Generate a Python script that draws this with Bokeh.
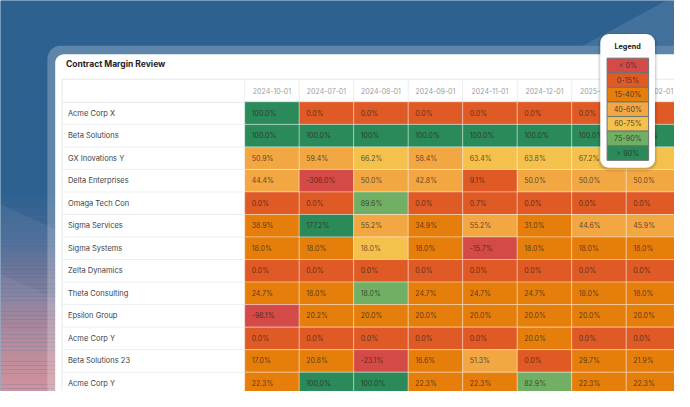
import math
from bokeh.plotting import figure
from bokeh.models import Range1d
from bokeh.embed import file_html
from bokeh.resources import INLINE
from bokeh.core.properties import value

# ---------------- data ----------------
title_text = "Contract Margin Review"
legend_title = "Legend"

columns = ["2024-10-01", "2024-07-01", "2024-08-01", "2024-09-01",
           "2024-11-01", "2024-12-01", "2025-01-01", "2025-02-01"]

rows = ["Acme Corp X", "Beta Solutions", "GX Inovations Y", "Delta Enterprises",
        "Omaga Tech Con", "Sigma Services", "Sigma Systems", "Zelta Dynamics",
        "Theta Consulting", "Epsilon Group", "Acme Corp Y", "Beta Solutions 23",
        "Acme Corp Y"]

cell_labels = [
    ["100.0%", "0.0%", "0.0%", "0.0%", "0.0%", "0.0%", "0.0%", "0.0%"],
    ["100.0%", "100.0%", "100%", "100.0%", "100.0%", "100.0%", "100.0%", "100.0%"],
    ["50.9%", "59.4%", "66.2%", "58.4%", "63.4%", "63.8%", "67.2%", "65.0%"],
    ["44.4%", "-306.0%", "50.0%", "42.8%", "9.1%", "50.0%", "50.0%", "50.0%"],
    ["0.0%", "0.0%", "89.6%", "0.0%", "0.7%", "0.0%", "0.0%", "0.0%"],
    ["38.9%", "177.2%", "55.2%", "34.9%", "55.2%", "31.0%", "44.6%", "45.9%"],
    ["18.0%", "18.0%", "18.0%", "18.0%", "-15.7%", "18.0%", "18.0%", "18.0%"],
    ["0.0%", "0.0%", "0.0%", "0.0%", "0.0%", "0.0%", "0.0%", "0.0%"],
    ["24.7%", "18.0%", "18.0%", "24.7%", "24.7%", "24.7%", "18.0%", "18.0%"],
    ["-98.1%", "20.2%", "20.0%", "20.0%", "20.0%", "20.0%", "20.0%", "20.0%"],
    ["0.0%", "0.0%", "0.0%", "0.0%", "0.0%", "20.0%", "0.0%", "0.0%"],
    ["17.0%", "20.8%", "-23.1%", "16.6%", "51.3%", "0.0%", "29.7%", "21.9%"],
    ["22.3%", "100,0%", "100.0%", "22.3%", "22.3%", "82.9%", "22.3%", "22.3%"],
]

# colour band index of each cell as shown (0:<0%, 1:0-15, 2:15-40, 3:40-60, 4:60-75, 5:75-90, 6:>90)
cell_bands = [
    [6, 1, 1, 1, 1, 1, 1, 1],
    [6, 6, 6, 6, 6, 6, 6, 6],
    [3, 3, 4, 3, 4, 4, 4, 4],
    [3, 0, 3, 3, 1, 3, 3, 3],
    [1, 1, 5, 1, 1, 1, 1, 1],
    [2, 6, 3, 2, 3, 2, 3, 3],
    [2, 2, 4, 2, 0, 2, 2, 2],
    [1, 1, 1, 1, 1, 1, 1, 1],
    [2, 2, 5, 2, 2, 2, 2, 2],
    [0, 2, 2, 2, 2, 2, 2, 2],
    [1, 1, 1, 1, 1, 2, 1, 1],
    [2, 2, 0, 2, 3, 1, 2, 2],
    [2, 6, 6, 2, 2, 5, 2, 2],
]

band_labels = ["< 0%", "0-15%", "15-40%", "40-60%", "60-75%", "75-90%", "> 90%"]
band_colors = ["#d44a47", "#e05a25", "#e67e0b", "#f2a743", "#f5c14d", "#71b064", "#2b8a5a"]

# ---------------- layout constants (reference pixel space 690 x 407) ----------------
W, H = 674, 391
RW, RHT = 690.0, 407.0
CX0, CW = 250.0, 55.8      # first cell column left edge, column width
RY0, RH = 105.5, 23.45     # first row top edge, row height
LY0, LH = 60.0, 15.2       # legend swatch top, swatch height
FONT = value("Inter")


def rr(x0, y0, x1, y1, r, n=10):
    xs, ys = [], []
    corners = [(x1 - r, y0 + r, -90, 0), (x1 - r, y1 - r, 0, 90),
               (x0 + r, y1 - r, 90, 180), (x0 + r, y0 + r, 180, 270)]
    for cx, cy, a0, a1 in corners:
        for k in range(n + 1):
            a = math.radians(a0 + (a1 - a0) * k / n)
            xs.append(cx + r * math.cos(a))
            ys.append(cy + r * math.sin(a))
    return xs, ys


p = figure(width=W, height=H, x_range=Range1d(0, RW), y_range=Range1d(RHT, 0),
           output_backend="svg", toolbar_location=None, min_border=0,
           x_axis_location=None, y_axis_location=None)
p.grid.visible = False
p.outline_line_color = None
p.background_fill_color = "#2d6190"
p.border_fill_color = "#2d6190"

p.extra_x_ranges = {"col": Range1d((0 - CX0) / CW, (RW - CX0) / CW)}
p.extra_y_ranges = {"row": Range1d((RHT - RY0) / RH, (0 - RY0) / RH),
                    "leg": Range1d((RHT - LY0) / LH, (0 - LY0) / LH)}

# ---------------- background gradient ----------------
stops = [(0, (45, 97, 144)), (200, (46, 98, 145)), (250, (72, 104, 148)),
         (310, (128, 118, 150)), (360, (178, 127, 145)), (410, (206, 135, 148))]


def grad(y):
    for (ya, ca), (yb, cb) in zip(stops[:-1], stops[1:]):
        if ya <= y <= yb:
            t = (y - ya) / (yb - ya)
            c = [int(ca[i] + (cb[i] - ca[i]) * t) for i in range(3)]
            return "#%02x%02x%02x" % tuple(c)
    return "#%02x%02x%02x" % stops[-1][1]


step = 4
ys0 = list(range(0, 412, step))
p.quad(left=0, right=700, top=ys0, bottom=[y + step for y in ys0],
       fill_color=[grad(y + step / 2) for y in ys0], line_color=None)

# diagonal light sheets
p.patch([0, 60, 60, 0], [212, 240, 420, 420], fill_color="white", fill_alpha=0.06, line_color=None)
p.patch([0, 60, 60, 0], [285, 312, 420, 420], fill_color="white", fill_alpha=0.05, line_color=None)
p.patch([596, 700, 700], [47, -10, 47], fill_color="white", fill_alpha=0.10, line_color=None)

# frame + card
fx, fy = rr(48, 47, 740, 470, 14)
p.patch(fx, fy, fill_color="white", fill_alpha=0.24, line_color=None)
cx, cy = rr(56, 56, 740, 470, 9)
p.patch(cx, cy, fill_color="white", line_color=None)

p.text(x=[67], y=[66.5], text=[title_text], text_font=FONT, text_font_size="8.5px",
       text_font_style="bold", text_color="#1f2328", text_baseline="middle", text_align="left")

# table frame lines
p.segment(x0=[63, 63, 63], y0=[82, 82, 106], x1=[700, 63, 250], y1=[82, 420, 106],
          line_color="#e6e8eb", line_width=1)
p.segment(x0=list(range(len(columns) + 1)), x1=list(range(len(columns) + 1)),
          y0=82, y1=106, x_range_name="col", line_color="#eceef1", line_width=1)
p.segment(x0=63, x1=250, y0=list(range(1, len(rows) + 1)), y1=list(range(1, len(rows) + 1)),
          y_range_name="row", line_color="#eceef1", line_width=1)

# header labels
p.text(x=[i + 0.5 for i in range(len(columns))], y=94.5, text=columns, x_range_name="col",
       text_font=FONT, text_font_size="7px", text_color="#9a9ea5",
       text_align="center", text_baseline="middle")

# row labels
p.text(x=69, y=[j + 0.5 for j in range(len(rows))], text=rows, y_range_name="row",
       text_font=FONT, text_font_size="7.5px", text_color="#3c4148",
       text_align="left", text_baseline="middle")

# cells
cxs, cys, ccol, ctxt = [], [], [], []
for j, r in enumerate(rows):
    for i, c in enumerate(columns):
        cxs.append(i)
        cys.append(j)
        ccol.append(band_colors[cell_bands[j][i]])
        ctxt.append(cell_labels[j][i])
p.rect(x=[v + 0.5 for v in cxs], y=[v + 0.5 for v in cys], width=1, height=1,
       x_range_name="col", y_range_name="row", fill_color=ccol,
       line_color="white", line_alpha=0.35, line_width=1)
p.text(x=cxs, y=[v + 0.5 for v in cys], text=ctxt, x_offset=7,
       x_range_name="col", y_range_name="row", text_font=FONT, text_font_size="7px",
       text_color="#2b2118", text_alpha=0.75, text_align="left", text_baseline="middle")

# legend box
for k, a in enumerate([0.04, 0.05, 0.07]):
    e = 3 - k
    sx, sy = rr(614 - e, 35 - e + 1.5, 670 + e, 174 + e + 1.5, 9 + e)
    p.patch(sx, sy, fill_color="black", fill_alpha=a, line_color=None)
lx, ly = rr(614, 35, 670, 174, 9)
p.patch(lx, ly, fill_color="white", line_color=None)
p.text(x=[642], y=[47.5], text=[legend_title], text_font=FONT, text_font_size="7.2px",
       text_font_style="bold", text_color="#16181b", text_align="center", text_baseline="middle")
ks = list(range(len(band_labels)))
p.quad(left=621, right=663.5, top=ks, bottom=[k + 1 for k in ks], y_range_name="leg",
       fill_color=band_colors, line_color="#6e7176", line_width=1)
p.text(x=642.3, y=[k + 0.5 for k in ks], text=band_labels, y_range_name="leg",
       text_font=FONT, text_font_size="7.2px", text_color="#2b2b2b", text_alpha=0.85,
       text_align="center", text_baseline="middle")

open("out.html", "w").write(file_html(p, INLINE))
